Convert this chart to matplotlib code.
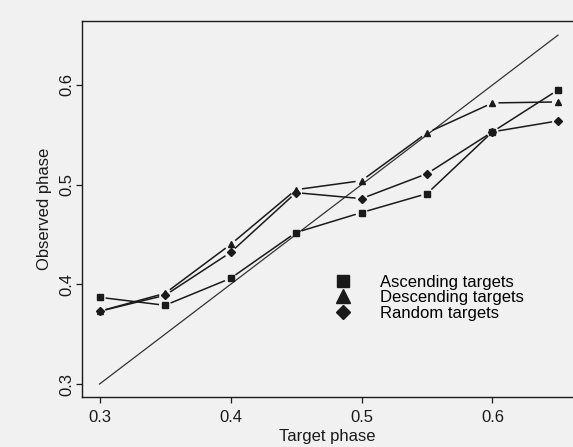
import numpy as np
import matplotlib
matplotlib.use("Agg")
import matplotlib.pyplot as plt
from matplotlib.lines import Line2D

# target phases and observed phases
target = [0.30, 0.35, 0.40, 0.45, 0.50, 0.55, 0.60, 0.65]
ascending = [0.387, 0.379, 0.406, 0.452, 0.472, 0.491, 0.553, 0.595]
descending = [0.373, 0.391, 0.440, 0.495, 0.504, 0.552, 0.582, 0.583]
random_t = [0.373, 0.389, 0.432, 0.492, 0.486, 0.511, 0.553, 0.564]
labels = ['Ascending targets', 'Descending targets', 'Random targets']

plt.rcParams['font.family'] = ['Liberation Sans', 'DejaVu Sans']

bg = '#f1f1f1'
ink = '#1a1a1a'

fig = plt.figure(figsize=(5.73, 4.47), dpi=100, facecolor=bg)
ax = fig.add_axes([0.1431, 0.1112, 0.8764, 0.8425], facecolor=bg)
ax.set_xlim(0.2866, 0.67)
ax.set_ylim(0.2867, 0.6645)


def gapped_line(xs, ys, gap=6, **kw):
    # S-style "type b": segments stop short of the points
    pts = ax.transData.transform(np.column_stack([xs, ys]))
    inv = ax.transData.inverted()
    for p0, p1 in zip(pts[:-1], pts[1:]):
        d = p1 - p0
        n = np.hypot(*d)
        if n <= 2 * gap:
            continue
        u = d / n
        seg = inv.transform(np.array([p0 + u * gap, p1 - u * gap]))
        ax.plot(seg[:, 0], seg[:, 1], color=ink, lw=1.1, solid_capstyle='butt')


# identity line
ax.plot([target[0], target[-1]], [target[0], target[-1]], color='#333333', lw=0.9)

series = [(ascending, 's', 4.5), (descending, '^', 5.0), (random_t, 'D', 3.6)]
for ys, mk, ms in series:
    gapped_line(target, ys)
    ax.plot(target, ys, ls='none', marker=mk, ms=ms, color=ink, mec=ink)

handles = [Line2D([], [], ls='none', marker=mk, ms=ms * 2.0, color=ink)
           for _, mk, ms in series]
ax.legend(handles, labels, loc='upper left', bbox_to_anchor=(0.503, 0.325),
          frameon=False, fontsize=12, labelspacing=0.02, handlelength=1.0,
          handletextpad=1.7, borderpad=0, borderaxespad=0)

ax.set_xticks([0.3, 0.4, 0.5, 0.6])
ax.set_yticks([0.3, 0.4, 0.5, 0.6])
ax.set_xticklabels(['0.3', '0.4', '0.5', '0.6'])
ax.set_yticklabels(['0.3', '0.4', '0.5', '0.6'], rotation=90, va='center')
ax.tick_params(direction='out', length=4.3, width=0.9, colors=ink,
               labelsize=12)
ax.tick_params(axis='x', pad=5)
ax.tick_params(axis='y', pad=1.5)

for s in ['left', 'bottom', 'top']:
    ax.spines[s].set_linewidth(1.0)
    ax.spines[s].set_color(ink)
ax.spines['right'].set_visible(False)

ax.set_xlabel('Target phase', fontsize=12, color=ink)
ax.set_ylabel('Observed phase', fontsize=12, color=ink)
ax.xaxis.set_label_coords(0.488, -0.084)
ax.yaxis.set_label_coords(-0.06, 0.5)

fig.savefig('out.png', dpi=100, facecolor=bg)
